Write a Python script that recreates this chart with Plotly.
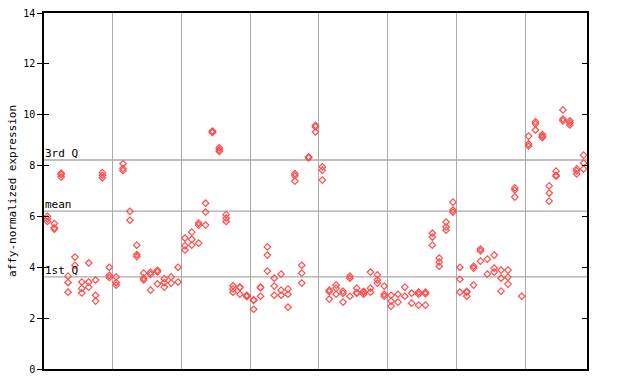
import plotly.graph_objects as go

# Expression values per sample (replicates)
samples = [
    [6.0, 5.9, 5.8], [5.72, 5.55, 5.5], [7.7, 7.65, 7.55], [3.65, 3.4, 3.02],
    [4.4, 4.08], [3.42, 3.17, 2.99], [4.17, 3.42, 3.22], [3.5, 2.9, 2.67],
    [7.72, 7.62, 7.52], [4.0, 3.68, 3.6], [3.62, 3.4, 3.3], [8.07, 7.88, 7.8],
    [6.2, 5.85], [4.87, 4.5, 4.42], [3.77, 3.57, 3.5], [3.8, 3.72, 3.1],
    [3.88, 3.82, 3.35], [3.55, 3.4, 3.22], [3.62, 3.38], [4.0, 3.42],
    [5.15, 4.85, 4.68], [5.38, 5.1, 4.87], [5.74, 5.66, 4.95], [6.52, 6.17, 5.66],
    [9.36, 9.33, 9.3], [8.7, 8.62, 8.56], [6.07, 5.93, 5.8], [3.27, 3.15, 3.02],
    [3.22, 3.2, 2.94], [2.9, 2.87, 2.85], [2.72, 2.7, 2.35], [3.22, 3.2, 2.86],
    [4.8, 4.48, 3.85], [3.57, 3.26, 2.9], [3.73, 3.1, 2.9], [3.14, 2.94, 2.43],
    [7.68, 7.6, 7.39], [4.08, 3.77, 3.38], [8.34, 8.32, 8.3], [9.58, 9.52, 9.32],
    [7.95, 7.82, 7.43], [3.1, 3.04, 2.75], [3.3, 3.18, 2.94], [3.06, 2.98, 2.63],
    [3.65, 3.57, 2.86], [3.18, 3.0, 2.98], [3.05, 3.02, 2.94], [3.81, 3.18, 3.02],
    [3.7, 3.5, 3.38], [3.26, 2.94, 2.86], [2.9, 2.67, 2.47], [2.94, 2.63],
    [3.22, 2.86], [2.98, 2.59], [3.02, 2.94, 2.51], [3.02, 2.96, 2.51],
    [5.34, 5.19, 4.87], [4.36, 4.2, 4.04], [5.78, 5.58, 5.46], [6.56, 6.25, 6.17],
    [4.0, 3.53, 3.02], [3.05, 3.02, 2.86], [4.04, 3.97, 3.3], [4.72, 4.64, 4.24],
    [4.32, 3.73], [4.48, 3.97, 3.81], [3.89, 3.57, 3.06], [3.89, 3.61, 3.34],
    [7.12, 7.04, 6.76], [2.86], [9.16, 8.85, 8.77], [9.72, 9.64, 9.4],
    [9.22, 9.15, 9.1], [7.2, 6.92, 6.6], [7.78, 7.62, 7.58], [10.19, 9.83, 9.76],
    [9.76, 9.68, 9.6], [7.87, 7.79, 7.67], [8.41, 8.1, 7.87],
]

group_bounds = [10, 20, 30, 40, 50, 60, 70]
y_ticks = [0, 2, 4, 6, 8, 10, 12, 14]
ref_names = ["3rd Q", "mean", "1st Q"]
ref_values = [8.22, 6.21, 3.62]

xs, ys = [], []
for i, vals in enumerate(samples):
    for v in vals:
        xs.append(i + 0.5)
        ys.append(v)

n = len(samples)
color = "#ff4d4d"
font = "DejaVu Sans Mono"

fig = go.Figure()
fig.add_trace(go.Scatter(
    x=xs, y=ys, mode="markers",
    marker=dict(symbol="diamond-open", size=5, color=color, line=dict(width=1.2, color=color)),
    hoverinfo="skip", showlegend=False,
))
fig.add_trace(go.Scatter(
    x=[0], y=[0], mode="markers", marker=dict(opacity=0),
    yaxis="y2", hoverinfo="skip", showlegend=False,
))

for name, val in zip(ref_names, ref_values):
    fig.add_hline(y=val, line=dict(color="#aaaaaa", width=1.3), layer="below")
    fig.add_annotation(x=0, y=val, xref="x", yref="y", text=name, showarrow=False,
                       xanchor="left", yanchor="bottom", yshift=-2, xshift=-1,
                       font=dict(family=font, size=11, color="black"))

fig.update_layout(
    width=640, height=384,
    margin=dict(l=44, r=53, t=13, b=15),
    plot_bgcolor="white", paper_bgcolor="white",
    xaxis=dict(range=[0, n], tickvals=group_bounds, showticklabels=False, ticks="",
               showgrid=True, gridcolor="#aaaaaa", gridwidth=1, zeroline=False,
               automargin=False,
               showline=True, linecolor="black", linewidth=1.5, mirror=True),
    yaxis=dict(range=[0, 14], tickvals=y_ticks, ticks="outside", ticklen=5,
               tickcolor="black", showgrid=False, zeroline=False, automargin=False,
               showline=True, linecolor="black", linewidth=1.5,
               tickfont=dict(family=font, size=10, color="black"),
               title=dict(text="affy-normalized expression", standoff=4,
                          font=dict(family=font, size=11, color="black"))),
    yaxis2=dict(range=[0, 14], overlaying="y", tickvals=y_ticks, ticks="inside",
                ticklen=5, tickcolor="black", mirror="ticks", showticklabels=False,
                showgrid=False, zeroline=False, showline=True, linecolor="black",
                automargin=False, linewidth=1.5, side="left"),
)

fig.write_html("out.html")
